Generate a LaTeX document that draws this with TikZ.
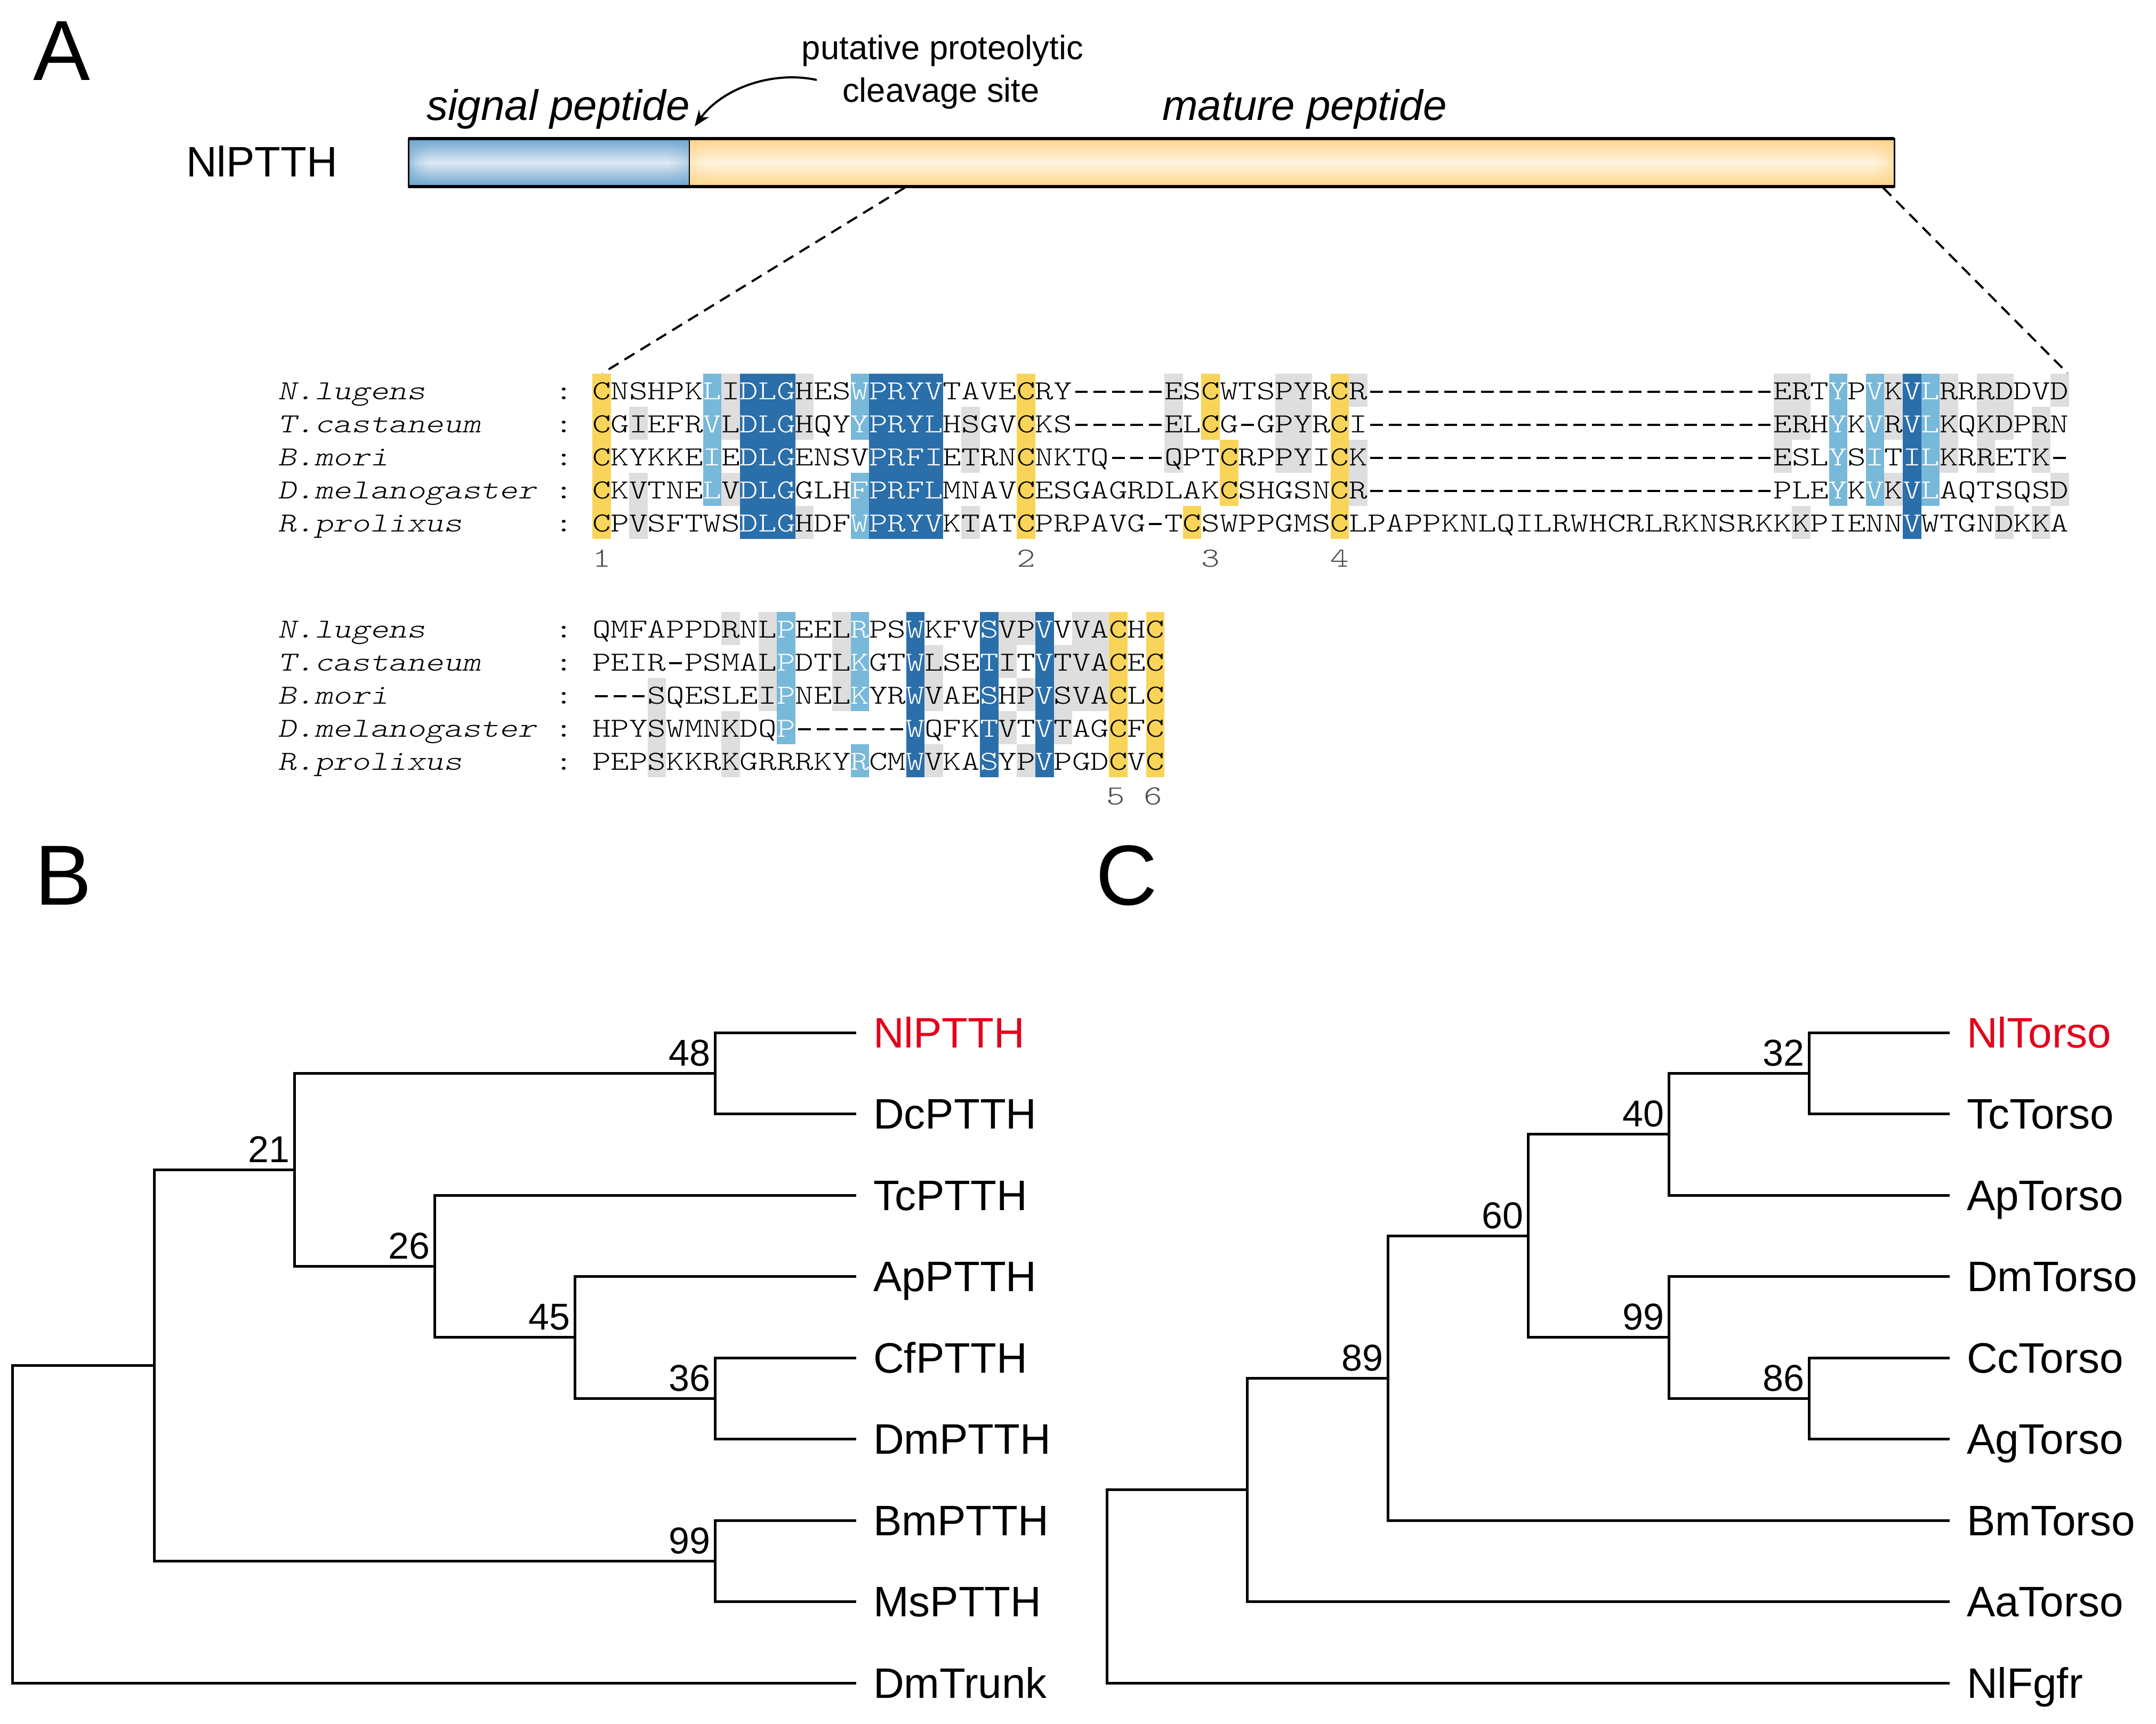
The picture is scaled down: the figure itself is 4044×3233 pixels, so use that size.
\documentclass[tikz,border=0pt]{standalone}
\usepackage{fontspec}
\setmainfont{Liberation Sans}
\newfontfamily\alnfont{lmmonolt10-regular.otf}[ItalicFont=lmmonolt10-oblique.otf]
\usetikzlibrary{arrows.meta}
\definecolor{hlY}{RGB}{248,212,88}
\definecolor{hlD}{RGB}{42,110,170}
\definecolor{hlL}{RGB}{120,184,217}
\definecolor{hlG}{RGB}{222,222,222}
\definecolor{nlred}{RGB}{227,0,27}
\definecolor{spEdge}{RGB}{108,164,206}
\definecolor{spMid}{RGB}{222,233,243}
\definecolor{mpEdge}{RGB}{255,212,136}
\definecolor{mpMid}{RGB}{255,244,224}
\newlength\cw
\newcommand\alnsize{\alnfont\fontsize{15.5}{16}\selectfont}
\newcommand\aln[1]{\scalebox{\alnscale}[1]{\alnsize #1}}
\newcommand\w[1]{\textcolor{white}{#1}}
\newcommand\hy{\makebox[\fontcharwd\font`\M]{\rule[0.24em]{0.36em}{0.075em}}}
\newcommand\hyv{\hy\hy\hy\hy\hy}
\newcommand\hyxxii{\hyv\hyv\hyv\hyv\hy\hy}
\newcommand\hlb[6]{\fill[fill=#1] ({1111+(#3-1)*34.62},{#2+(#5-1)*62}) rectangle ({1111+#4*34.62},{#2+#6*62});}
\begin{document}
\settowidth{\cw}{\alnsize M}%
\ifdim\cw<1pt \setlength{\cw}{8.1375pt}\fi
\pgfmathsetmacro\alnscale{10.386/\cw}%
\begin{tikzpicture}[x=0.3pt,y=-0.3pt,
  txt/.style={inner sep=0pt,outer sep=0pt},
  lab/.style={txt,anchor=base west},
  seq/.style={txt,anchor=base west},
  branch/.style={line width=1.5pt,line join=miter},
  leaf/.style={txt,anchor=base west,font=\fontsize{24}{24}\selectfont},
  boot/.style={txt,anchor=base east,font=\fontsize{21}{21}\selectfont},
  panel/.style={txt,anchor=base west,font=\fontsize{48}{48}\selectfont},
  cutline/.style={line width=1.2pt,dash pattern=on 6.5pt off 4pt},
  colnum/.style={txt,anchor=base,text=black!70}]
\fill[white] (0,0) rectangle (4044,3233);
\useasboundingbox (0,0) rectangle (4044,3233);

% ---------------- Panel A ----------------
\node[panel] (pA) at (62,150) {A};
\node[lab,font=\fontsize{24}{24}\selectfont] (ptthname) at (349,331) {NlPTTH};

\shade[top color=spEdge,bottom color=spEdge,middle color=spMid] (766,260) rectangle (1293,350);
\shade[top color=mpEdge,bottom color=mpEdge,middle color=mpMid] (1293,260) rectangle (3553,350);
\foreach \k/\o in {0/0.55,1/0.42,2/0.3,3/0.2,4/0.12,5/0.06}{
  \fill[spEdge,opacity=\o] ({766+6*\k},260) rectangle ({772+6*\k},350);
  \fill[spEdge,opacity=\o*0.6] ({1287-6*\k},260) rectangle ({1293-6*\k},350);
  \fill[mpEdge,opacity=\o*0.6] ({1293+6*\k},260) rectangle ({1299+6*\k},350);
  \fill[mpEdge,opacity=\o] ({3547-6*\k},260) rectangle ({3553-6*\k},350);
}
\draw[line width=0.9pt] (766,260) rectangle (3553,350);
\draw[line width=1.8pt] (766,260) -- (3553,260);
\draw[line width=1.8pt] (766,350) -- (3553,350);
\draw[line width=0.8pt] (1293,260) -- (1293,350);

\node[lab,font=\fontsize{24}{24}\selectfont\itshape] (sigp) at (800,225) {signal peptide};
\node[lab,font=\fontsize{24}{24}\selectfont\itshape] (matp) at (2180,225) {mature peptide};
\node[txt,anchor=base,font=\fontsize{19}{19}\selectfont] (put1) at (1768,111) {putative proteolytic};
\node[txt,anchor=base,font=\fontsize{19}{19}\selectfont] (put2) at (1765,191) {cleavage site};
\coordinate (arrS) at (1532,150);
\coordinate (arrE) at (1303,237);
\draw[line width=1.2pt,-{Stealth[length=9pt,width=7pt]}] (arrS) .. controls (1450,132) and (1355,165) .. (arrE);

\coordinate (cutL) at (1697,352); \coordinate (alnL) at (1130,700);
\coordinate (cutR) at (3532,352); \coordinate (alnR) at (3878,700);
\draw[cutline] (cutL) -- (alnL);
\draw[cutline] (cutR) -- (alnR);

% ---------------- Alignment highlights ----------------
\foreach \cl/\ca/\cb/\ra/\rb in {hlY/1/1/1/5, hlY/24/24/1/5, hlY/34/34/1/2, hlY/35/35/3/4, hlY/33/33/5/5, hlY/41/41/1/5,
 hlD/9/11/1/5, hlD/16/19/1/5, hlD/72/72/1/5,
 hlL/7/7/1/4, hlL/15/15/1/2, hlL/15/15/4/5, hlL/68/68/1/4, hlL/70/70/1/4, hlL/73/73/1/4,
 hlG/3/3/2/2, hlG/3/3/4/5, hlG/8/8/1/2, hlG/8/8/4/4, hlG/12/12/1/2, hlG/12/12/5/5, hlG/21/21/2/3, hlG/21/21/5/5,
 hlG/32/32/1/3, hlG/38/39/1/3, hlG/42/42/1/1, hlG/42/42/3/4, hlG/65/65/1/3, hlG/66/66/1/2, hlG/66/66/5/5,
 hlG/71/71/1/2, hlG/71/71/4/4, hlG/74/74/1/3, hlG/76/76/1/3, hlG/77/77/1/2, hlG/77/77/5/5, hlG/79/79/2/3,
 hlG/79/79/5/5, hlG/80/80/1/1, hlG/80/80/4/4}
 {\hlb{\cl}{701}{\ca}{\cb}{\ra}{\rb}}
\foreach \cl/\ca/\cb/\ra/\rb in {hlY/29/29/1/5, hlY/31/31/1/5, hlD/18/18/1/5, hlD/22/22/1/5, hlD/25/25/1/5,
 hlL/11/11/1/4, hlL/15/15/1/3, hlL/15/15/5/5,
 hlG/4/4/3/5, hlG/8/8/1/1, hlG/8/8/4/5, hlG/10/10/1/3, hlG/14/14/1/3, hlG/19/19/2/3, hlG/19/19/5/5,
 hlG/23/23/1/2, hlG/23/23/4/4, hlG/24/24/1/1, hlG/24/24/3/3, hlG/24/24/5/5, hlG/26/26/2/4, hlG/27/28/1/3}
 {\hlb{\cl}{1148}{\ca}{\cb}{\ra}{\rb}}

% ---------------- Alignment block 1 ----------------
\node[seq] (n1a) at (521,749) {\aln{\itshape N.lugens}};
\node[seq] (n2a) at (521,811) {\aln{\itshape T.castaneum}};
\node[seq] (n3a) at (521,873) {\aln{\itshape B.mori}};
\node[seq] (n4a) at (521,935) {\aln{\itshape D.melanogaster}};
\node[seq] (n5a) at (521,997) {\aln{\itshape R.prolixus}};
\foreach \r/\yy in {1/749,2/811,3/873,4/935,5/997}{\node[txt,anchor=base] (ca\r) at (1058,\yy) {\aln{:}};}
\node[seq] (s1a) at (1111,749) {\aln{CNSHPK\w{L}I\w{DLG}HES\w{WPRYV}TAVECRY\hyv ESCWTSPYRCR\hyxxii ERT\w{Y}P\w{V}K\w{VL}RRRDDVD}};
\node[seq] (s2a) at (1111,811) {\aln{CGIEFR\w{V}L\w{DLG}HQY\w{YPRYL}HSGVCKS\hyv ELCG\hy GPYRCI\hyxxii ERH\w{Y}K\w{V}R\w{VL}KQKDPRN}};
\node[seq] (s3a) at (1111,873) {\aln{CKYKKE\w{I}E\w{DLG}ENSV\w{PRFI}ETRNCNKTQ\hy\hy\hy QPTCRPPYICK\hyxxii ESL\w{Y}S\w{I}T\w{IL}KRRETK\hy}};
\node[seq] (s4a) at (1111,935) {\aln{CKVTNE\w{L}V\w{DLG}GLH\w{FPRFL}MNAVCESGAGRDLAKCSHGSNCR\hyxxii PLE\w{Y}K\w{V}K\w{VL}AQTSQSD}};
\node[seq] (s5a) at (1111,997) {\aln{CPVSFTWS\w{DLG}HDF\w{WPRYV}KTATCPRPAVG\hy TCSWPPGMSCLPAPPKNLQILRWHCRLRKNSRKKKPIENN\w{V}WTGNDKKA}};
\node[colnum] (k1) at (1128.3,1063) {\aln{1}};
\node[colnum] (k2) at (1924.6,1063) {\aln{2}};
\node[colnum] (k3) at (2270.8,1063) {\aln{3}};
\node[colnum] (k4) at (2513.1,1063) {\aln{4}};

% ---------------- Alignment block 2 ----------------
\node[seq] (n1b) at (521,1196) {\aln{\itshape N.lugens}};
\node[seq] (n2b) at (521,1258) {\aln{\itshape T.castaneum}};
\node[seq] (n3b) at (521,1320) {\aln{\itshape B.mori}};
\node[seq] (n4b) at (521,1382) {\aln{\itshape D.melanogaster}};
\node[seq] (n5b) at (521,1444) {\aln{\itshape R.prolixus}};
\foreach \r/\yy in {1/1196,2/1258,3/1320,4/1382,5/1444}{\node[txt,anchor=base] (cb\r) at (1058,\yy) {\aln{:}};}
\node[seq] (s1b) at (1111,1196) {\aln{QMFAPPDRNL\w{P}EEL\w{R}PS\w{W}KFV\w{S}VP\w{V}VVACHC}};
\node[seq] (s2b) at (1111,1258) {\aln{PEIR\hy PSMAL\w{P}DTL\w{K}GT\w{W}LSE\w{T}IT\w{V}TVACEC}};
\node[seq] (s3b) at (1111,1320) {\aln{\hy\hy\hy SQESLEI\w{P}NEL\w{K}YR\w{W}VAE\w{S}HP\w{V}SVACLC}};
\node[seq] (s4b) at (1111,1382) {\aln{HPYSWMNKDQ\w{P}\hy\hy\hy\hy\hy\hy\w{W}QFK\w{T}VT\w{V}TAGCFC}};
\node[seq] (s5b) at (1111,1444) {\aln{PEPSKKRKGRRRKY\w{R}CM\w{W}VKA\w{S}YP\w{V}PGDCVC}};
\node[colnum] (k5) at (2093.1,1509) {\aln{5}};
\node[colnum] (k6) at (2162.3,1509) {\aln{6}};

% ---------------- Panel B ----------------
\node[panel] (pB) at (66,1697) {B};
\foreach \i/\yy in {1/1937,2/2089.5,3/2242,4/2394.5,5/2547,6/2699.5,7/2852,8/3004.5,9/3157}{
  \coordinate (b\i) at (1606,\yy);
  \coordinate (c\i) at (3657,\yy);
}
\coordinate (b48) at (1341,2013.25);
\coordinate (b36) at (1341,2623.25);
\coordinate (b45) at (1078,2508.9);
\coordinate (b26) at (815,2375.45);
\coordinate (b21) at (552,2194.35);
\coordinate (b99) at (1341,2928.25);
\coordinate (bX) at (289,2561.3);
\coordinate (bR) at (23,2859.15);
\draw[branch] (b1) -| (b48) |- (b2);
\draw[branch] (b5) -| (b36) |- (b6);
\draw[branch] (b4) -| (b45) |- (b36);
\draw[branch] (b3) -| (b26) |- (b45);
\draw[branch] (b48) -| (b21) |- (b26);
\draw[branch] (b7) -| (b99) |- (b8);
\draw[branch] (b21) -| (bX) |- (b99);
\draw[branch] (bX) -| (bR) |- (b9);
\node[leaf,text=nlred] (tb1) at ([shift={(32,28)}]b1) {NlPTTH};
\node[leaf] (tb2) at ([shift={(32,28)}]b2) {DcPTTH};
\node[leaf] (tb3) at ([shift={(32,28)}]b3) {TcPTTH};
\node[leaf] (tb4) at ([shift={(32,28)}]b4) {ApPTTH};
\node[leaf] (tb5) at ([shift={(32,28)}]b5) {CfPTTH};
\node[leaf] (tb6) at ([shift={(32,28)}]b6) {DmPTTH};
\node[leaf] (tb7) at ([shift={(32,28)}]b7) {BmPTTH};
\node[leaf] (tb8) at ([shift={(32,28)}]b8) {MsPTTH};
\node[leaf] (tb9) at ([shift={(32,28)}]b9) {DmTrunk};
\node[boot] (vb48) at ([shift={(-9,-14)}]b48) {48};
\node[boot] (vb36) at ([shift={(-9,-14)}]b36) {36};
\node[boot] (vb45) at ([shift={(-9,-14)}]b45) {45};
\node[boot] (vb26) at ([shift={(-9,-14)}]b26) {26};
\node[boot] (vb21) at ([shift={(-9,-14)}]b21) {21};
\node[boot] (vb99) at ([shift={(-9,-14)}]b99) {99};

% ---------------- Panel C ----------------
\node[panel] (pC) at (2055,1697) {C};
\coordinate (c32) at (3393,2013.25);
\coordinate (c40) at (3130,2127.6);
\coordinate (c86) at (3393,2623.25);
\coordinate (c99) at (3130,2508.9);
\coordinate (c60) at (2866,2318.25);
\coordinate (c89) at (2603,2585.1);
\coordinate (cA) at (2339,2794.8);
\coordinate (cR) at (2076,2975.9);
\draw[branch] (c1) -| (c32) |- (c2);
\draw[branch] (c32) -| (c40) |- (c3);
\draw[branch] (c5) -| (c86) |- (c6);
\draw[branch] (c4) -| (c99) |- (c86);
\draw[branch] (c40) -| (c60) |- (c99);
\draw[branch] (c60) -| (c89) |- (c7);
\draw[branch] (c89) -| (cA) |- (c8);
\draw[branch] (cA) -| (cR) |- (c9);
\node[leaf,text=nlred] (tc1) at ([shift={(32,28)}]c1) {NlTorso};
\node[leaf] (tc2) at ([shift={(32,28)}]c2) {TcTorso};
\node[leaf] (tc3) at ([shift={(32,28)}]c3) {ApTorso};
\node[leaf] (tc4) at ([shift={(32,28)}]c4) {DmTorso};
\node[leaf] (tc5) at ([shift={(32,28)}]c5) {CcTorso};
\node[leaf] (tc6) at ([shift={(32,28)}]c6) {AgTorso};
\node[leaf] (tc7) at ([shift={(32,28)}]c7) {BmTorso};
\node[leaf] (tc8) at ([shift={(32,28)}]c8) {AaTorso};
\node[leaf] (tc9) at ([shift={(32,28)}]c9) {NlFgfr};
\node[boot] (vc32) at ([shift={(-9,-14)}]c32) {32};
\node[boot] (vc40) at ([shift={(-9,-14)}]c40) {40};
\node[boot] (vc86) at ([shift={(-9,-14)}]c86) {86};
\node[boot] (vc99) at ([shift={(-9,-14)}]c99) {99};
\node[boot] (vc60) at ([shift={(-9,-14)}]c60) {60};
\node[boot] (vc89) at ([shift={(-9,-14)}]c89) {89};
\end{tikzpicture}
\end{document}
